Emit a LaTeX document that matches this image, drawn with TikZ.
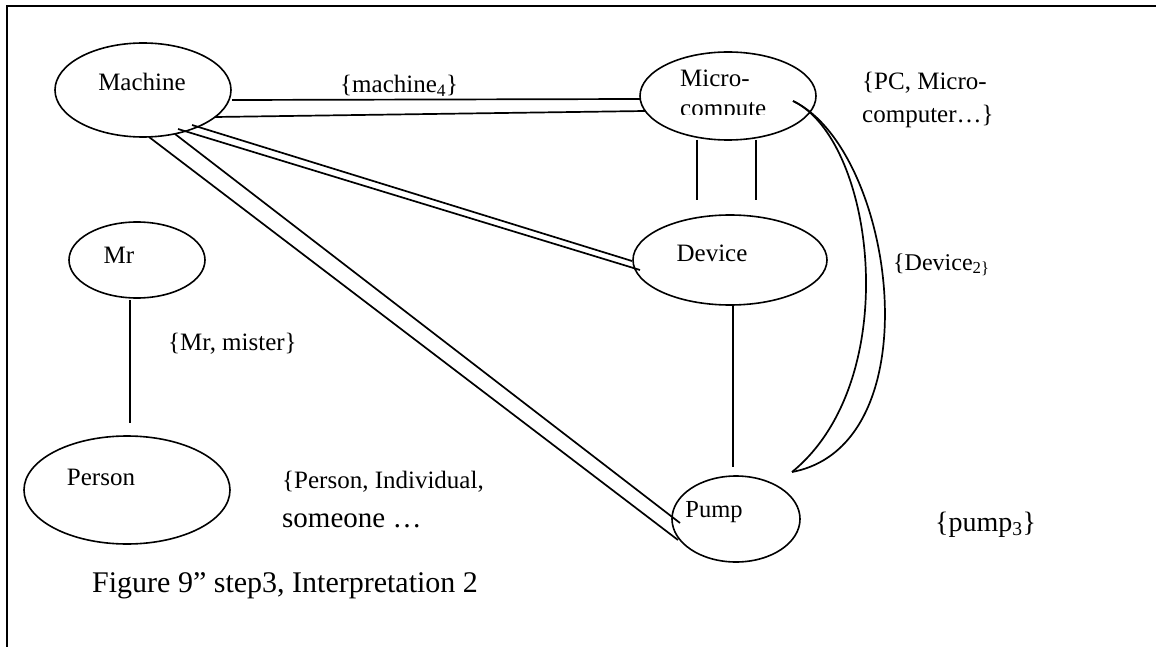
\documentclass[tikz,border=0pt]{standalone}
\usepackage{fontspec}
\setmainfont{Liberation Serif}
\usetikzlibrary{shapes.geometric}
\newcommand{\fs}[1]{\fontsize{#1}{#1}\selectfont}
\begin{document}
\begin{tikzpicture}[x=1pt,y=-1pt,
  ell/.style={draw,ellipse,line width=1.6pt,inner sep=0pt},
  conn/.style={line width=1.7pt},
  frameline/.style={line width=2.6pt},
  nodetext/.style={inner sep=0pt,font=\fs{25}},
  lbltext/.style={inner sep=0pt,anchor=base west,font=\fs{25}}]
\useasboundingbox (0,0) rectangle (1156,647);
% frame
\draw[frameline] (7,647) -- (7,6) -- (1156,6);
% ellipses
\node[ell,minimum width=176pt,minimum height=94pt] (machine) at (143,90) {};
\node[ell,minimum width=176pt,minimum height=88pt] (micro) at (728,96) {};
\node[ell,minimum width=194pt,minimum height=90pt] (device) at (730,260) {};
\node[ell,minimum width=136pt,minimum height=76pt] (mr) at (137,260) {};
\node[ell,minimum width=206pt,minimum height=108pt] (person) at (127,490) {};
\node[ell,minimum width=128pt,minimum height=86pt] (pump) at (736,519) {};
% node texts
\node[nodetext] (tmachine) at (142,82) {Machine};
\node[nodetext,anchor=base west] (tmicro) at (680,87) {Micro-};
\begin{scope}
\clip (600,95) rectangle (820,115);
\node[nodetext,anchor=base west] (tcompute) at (680,117) {compute};
\end{scope}
\node[nodetext] (tdevice) at (712,253) {Device};
\node[nodetext] (tmr) at (119,255) {Mr};
\node[nodetext] (tperson) at (101,477) {Person};
\node[nodetext,font=\fs{24.5}] (tpump) at (714,512) {Pump};
% labels
\node[lbltext] (lmachine) at (340,93) {\{machine\textsubscript{4}\}};
\node[lbltext] (lpc1) at (862,90) {\{PC, Micro-};
\node[lbltext] (lpc2) at (862,123) {computer\ldots\}};
\node[lbltext,font=\fs{24}] (ldevice) at (893,270) {\{Device\textsubscript{2\}}};
\node[lbltext] (lmr) at (168,350) {\{Mr, mister\}};
\node[lbltext] (lperson1) at (282,488) {\{Person, Individual,};
\node[lbltext,font=\fs{29}] (lperson2) at (282,527) {someone \ldots};
\node[lbltext,font=\fs{28}] (lpump) at (935,531) {\{pump\textsubscript{3}\}};
\node[lbltext,font=\fs{30}] (caption) at (92,592) {Figure 9” step3, Interpretation 2};
% connectors
\draw[conn] ([shift={(89,10)}]machine.center) -- ([shift={(-88,3)}]micro.center);
\draw[conn] ([shift={(72,27)}]machine.center) -- ([shift={(-83,15)}]micro.center);
\draw[conn] ([shift={(49,35)}]machine.center) -- ([shift={(-98,1)}]device.center);
\draw[conn] ([shift={(35,39)}]machine.center) -- ([shift={(-90,10)}]device.center);
\draw[conn] ([shift={(32,44)}]machine.center) -- ([shift={(-56,4)}]pump.center);
\draw[conn] ([shift={(6,47)}]machine.center) -- ([shift={(-58,21)}]pump.center);
\draw[conn] ([shift={(-31,44)}]micro.center) -- ([shift={(-33,-60)}]device.center);
\draw[conn] ([shift={(28,44)}]micro.center) -- ([shift={(26,-60)}]device.center);
\draw[conn] ([shift={(3,45)}]device.center) -- ([shift={(-3,-52)}]pump.center);
\draw[conn] ([shift={(-7,40)}]mr.center) -- ([shift={(3,-67)}]person.center);
\draw[conn] ([shift={(65,5)}]micro.center) .. controls (875,140) and (905,380) .. ([shift={(56,-47)}]pump.center);
\draw[conn] ([shift={(65,5)}]micro.center) .. controls (895,150) and (935,445) .. ([shift={(56,-47)}]pump.center);
\end{tikzpicture}
\end{document}
